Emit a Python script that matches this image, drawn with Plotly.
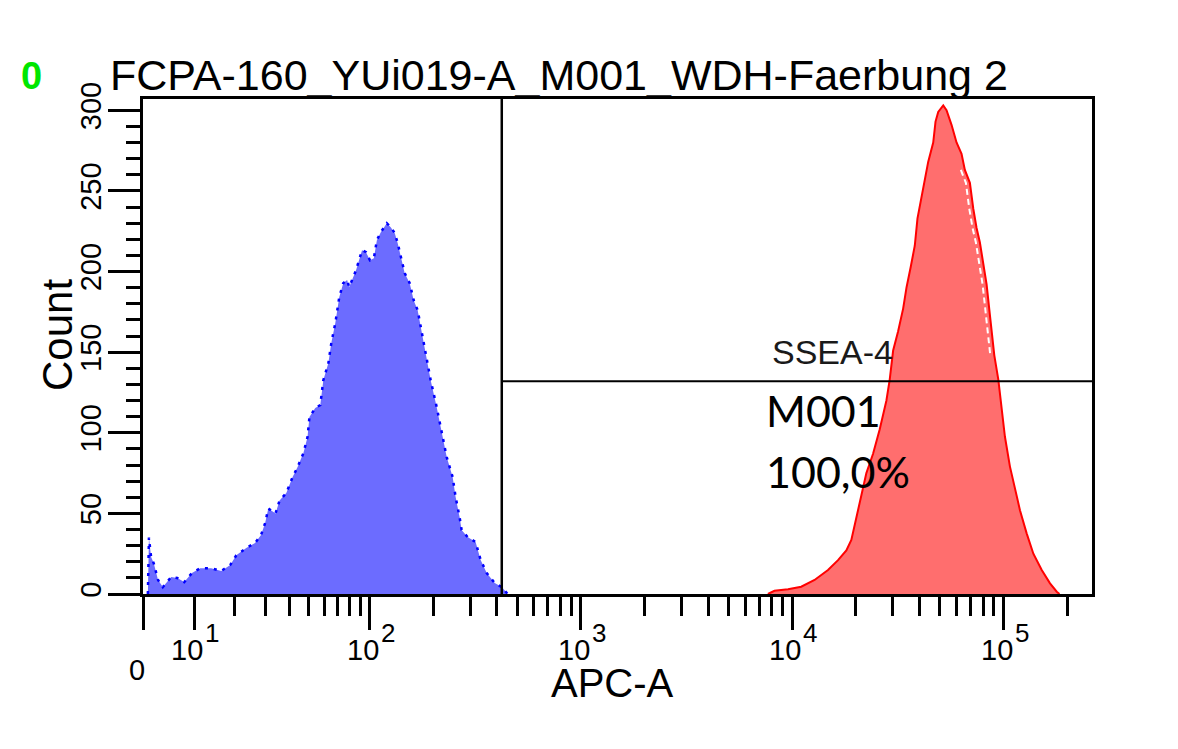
import numpy as np
import plotly.graph_objects as go

# ---------------- data ----------------
# blue histogram (unstained / control), APC-A intensity vs count
blue_apc = [0.9, 1.1, 1.5, 2.0, 2.8, 3.7, 5.3, 6.5, 7.9, 9.5, 11.3, 13.8, 16.3, 18.7, 20.4,
            23.4, 26.3, 28.4, 29.9, 31.1, 34.0, 35.7, 38.7, 41.7, 44.2, 47.3, 49.6, 50.7,
            54.2, 57.4, 59.4, 62.9, 65.0, 68.0, 71.1, 74.3, 77.6, 79.4, 82.0, 85.7, 88.6,
            91.6, 95.7, 100, 104.4, 107.9, 112.7, 120.4, 125.7, 131.4, 135.7, 141.8, 146.5,
            154.8, 161.7, 168.9, 174.5, 184.3, 194.7, 208, 222, 232, 247.6, 255.7, 267, 273,
            291.5, 318, 336, 359, 392, 423, 451]
blue_count = [0, 35, 23, 19, 8.7, 4.3, 10.5, 9.9, 7.4, 13, 16, 16, 14.3, 18, 24, 28.5, 31.6,
              36.6, 44, 53, 50, 58, 62.6, 72.5, 78.7, 87.4, 97.3, 109.7, 115.3, 117.2, 132.6,
              143.2, 155.6, 168, 184.2, 192.8, 194.7, 190.4, 194.7, 200.8, 207, 213.2, 212,
              207, 208.3, 219.4, 224.4, 230, 227.5, 223.8, 217.6, 207, 199, 192.8, 182.2, 176,
              165.5, 149.4, 132.6, 115.9, 97.3, 84.9, 72.5, 60.1, 47.7, 39.7, 35.3, 32.2, 21.1,
              13, 6.8, 4.3, 0]

# red histogram (SSEA-4 stained)
red_apc = [7680, 8250, 9560, 11040, 12770, 14780, 16490, 18050, 19060, 20130, 21260, 22450,
           24150, 25950, 27930, 28950, 30050, 31730, 33510, 34750, 36410, 38040, 39180, 40600,
           42140, 44020, 46500, 47680, 49100, 51860, 53750, 56760, 59940, 63300, 65630, 69320,
           71940, 74560, 77310, 80220, 83170, 86220, 88800, 90450, 94490, 97960, 101560,
           107250, 113260, 119610, 128660, 138410, 151600, 165950, 178580, 184000]
red_count = [0, 2, 3, 4.5, 8.7, 14.9, 21, 27, 33.5, 48, 62, 75, 87, 102, 120, 133, 151, 163,
             177, 190, 203, 216, 233, 243, 255, 268, 280, 293, 299, 303, 300, 291, 280, 273,
             263, 255, 239, 227, 218, 206, 192, 173, 156, 148, 133, 116, 97.5, 79, 64.5, 52,
             37.6, 25, 14.9, 6.6, 1.4, 0]

# gate M001
gate_low = 423
gate_high = 262144
gate_level = 132

x_max = 262144
y_max = 307

x_major = [0, 10, 100, 1000, 10000, 100000]
x_major_exp = ["", "1", "2", "3", "4", "5"]
x_minor = ([20, 30, 40, 50, 60, 70, 80, 90] + [200, 300, 400, 500, 600, 700, 800, 900] +
           [2000, 3000, 4000, 5000, 6000, 7000, 8000, 9000] +
           [20000, 30000, 40000, 50000, 60000, 70000, 80000, 90000] + [200000])
y_major = [0, 50, 100, 150, 200, 250, 300]
y_major_text = ["0", "50", "100", "150", "200", "250", "300"]

title_text = "FCPA-160_YUi019-A_M001_WDH-Faerbung 2"

# ---------------- biexponential-like display transform ----------------
C = 17.0


def biex(v):
    return np.arcsinh(np.asarray(v, dtype=float) / C) / np.log(10)


# page body has an 8px margin; figure is sized to fit the window
OFF = 8
W, H = 1162, 733
L, R, T, B = 135, 78, 91, 147
PW, PH = W - L - R, H - T - B


def px(xs):
    return (xs - OFF - L) / PW


def py(ys):
    return (H - B - (ys - OFF)) / PH


fig = go.Figure()

fig.add_trace(go.Scatter(
    x=biex(blue_apc), y=blue_count, mode="lines", fill="tozeroy",
    fillcolor="#6c6cff", line=dict(color="#0000ff", width=2.5, dash="3px,6px"),
    hoverinfo="skip", showlegend=False))

fig.add_trace(go.Scatter(
    x=biex(red_apc), y=red_count, mode="lines", fill="tozeroy",
    fillcolor="#ff6e6e", line=dict(color="#ff0000", width=2),
    hoverinfo="skip", showlegend=False))

# white dashed artefact inside the right flank of the red peak
rx = [a for a, c in zip(red_apc, red_count) if a > 60000 and 145 < c < 265]
rc = [c for a, c in zip(red_apc, red_count) if a > 60000 and 145 < c < 265]
fig.add_trace(go.Scatter(
    x=biex(rx) - 4 / 211.4, y=rc, mode="lines",
    line=dict(color="white", width=2, dash="6px,4px"),
    hoverinfo="skip", showlegend=False))

# gate lines
fig.add_shape(type="line", xref="x", yref="paper",
              x0=float(biex(gate_low)), x1=float(biex(gate_low)), y0=0, y1=1,
              line=dict(color="black", width=2.5))
fig.add_shape(type="line", xref="x", yref="y",
              x0=float(biex(gate_low)), x1=float(biex(gate_high)), y0=gate_level, y1=gate_level,
              line=dict(color="black", width=2))

fig.update_xaxes(
    range=[0, float(biex(x_max))], showgrid=False, zeroline=False,
    showline=True, linecolor="black", linewidth=3, mirror=True,
    tickmode="array", tickvals=list(biex(x_major)), ticks="outside",
    ticklen=33, tickwidth=3, tickcolor="black", showticklabels=False,
    minor=dict(tickmode="array", tickvals=list(biex(x_minor)), ticks="outside",
               ticklen=19, tickwidth=3, tickcolor="black", showgrid=False),
)
fig.update_yaxes(
    range=[0, y_max], showgrid=False, zeroline=False,
    showline=True, linecolor="black", linewidth=3, mirror=True,
    tickmode="array", tickvals=y_major, ticktext=y_major_text, ticks="outside",
    ticklen=32, tickwidth=3, tickcolor="black", tickangle=-90, ticklabelstandoff=-5,
    tickfont=dict(family="Liberation Sans", size=29, color="black"),
    minor=dict(tickmode="linear", tick0=0, dtick=10, ticks="outside",
               ticklen=14, tickwidth=3, tickcolor="black", showgrid=False),
)

ann = []
tick_font = dict(family="Liberation Sans", size=29, color="black")
exp_font = dict(family="Liberation Sans", size=26, color="black")
# x tick labels: mantissa "10" and a nearly full-size exponent, as in the original
for v, e in zip(x_major, x_major_exp):
    xv = float(biex(v))
    if v == 0:
        ann.append(dict(x=xv, y=py(670), xref="x", yref="paper", text="0",
                        showarrow=False, xanchor="center", yanchor="middle", xshift=-6,
                        borderpad=0, font=tick_font))
    else:
        ann.append(dict(x=xv, y=py(650), xref="x", yref="paper", text="10",
                        showarrow=False, xanchor="right", yanchor="middle", xshift=10,
                        borderpad=0, font=tick_font))
        ann.append(dict(x=xv, y=py(633), xref="x", yref="paper", text=e,
                        showarrow=False, xanchor="left", yanchor="middle", xshift=10,
                        borderpad=0, font=exp_font))

ann += [
    dict(x=px(108), y=py(101), xref="paper", yref="paper", text=title_text,
         showarrow=False, xanchor="left", yanchor="bottom",
         font=dict(family="Liberation Sans", size=43, color="black")),
    dict(x=px(31), y=py(76), xref="paper", yref="paper", text="<b>0</b>",
         showarrow=False, xanchor="center", yanchor="middle",
         font=dict(family="Liberation Sans", size=38, color="#00e600")),
    dict(x=px(57), y=py(335), xref="paper", yref="paper", text="Count",
         showarrow=False, xanchor="center", yanchor="middle", textangle=-90,
         font=dict(family="Liberation Sans", size=42, color="black")),
    dict(x=px(612), y=py(683), xref="paper", yref="paper", text="APC-A",
         showarrow=False, xanchor="center", yanchor="middle", borderpad=0,
         font=dict(family="Liberation Sans", size=40, color="black")),
    dict(x=px(832), y=py(352), xref="paper", yref="paper", text="SSEA-4",
         showarrow=False, xanchor="center", yanchor="middle",
         font=dict(family="Liberation Sans", size=34, color="#1a1a1a")),
    dict(x=px(764), y=py(410), xref="paper", yref="paper", text="M001",
         showarrow=False, xanchor="left", yanchor="middle",
         font=dict(family="Lato", size=43, color="black")),
    dict(x=px(764), y=py(471), xref="paper", yref="paper", text="100,0%",
         showarrow=False, xanchor="left", yanchor="middle",
         font=dict(family="Lato", size=43, color="black")),
]

fig.update_layout(
    width=W, height=H, margin=dict(l=L, r=R, t=T, b=B),
    paper_bgcolor="white", plot_bgcolor="white",
    annotations=ann, showlegend=False,
)

fig.write_html("out.html")
